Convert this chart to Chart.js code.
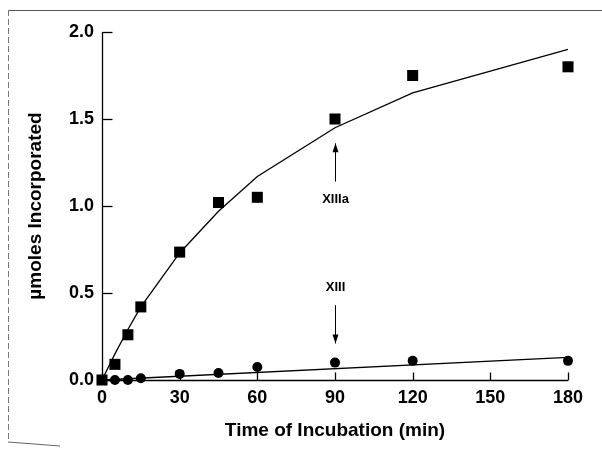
<!DOCTYPE html>
<html>
<head>
<meta charset="utf-8">
<script src="https://cdn.jsdelivr.net/npm/chart.js@4/dist/chart.umd.min.js"></script>
<style>
html,body{margin:0;padding:0;background:#fff;}
#wrap{position:relative;width:602px;height:449px;}
canvas{display:block;}
</style>
</head>
<body>
<div id="wrap"><canvas id="c" width="602" height="449"></canvas></div>
<script>
// Data
const timePoints = [0, 5, 10, 15, 30, 45, 60, 90, 120, 180];
const xiiiaValues = [0.00, 0.09, 0.26, 0.42, 0.735, 1.02, 1.05, 1.50, 1.75, 1.80];
const xiiiValues  = [0.00, 0.00, 0.00, 0.01, 0.035, 0.04, 0.075, 0.10, 0.11, 0.11];
const xiiiaFit    = [0.00, 0.15, 0.29, 0.42, 0.73, 0.97, 1.17, 1.45, 1.65, 1.90];
const xiiiFitX    = [0, 180];
const xiiiFit     = [0.00, 0.13];
const xTicks = [0, 30, 60, 90, 120, 150, 180];
const yTicks = [0.0, 0.5, 1.0, 1.5, 2.0];

const toPts = (xs, ys) => xs.map((x, i) => ({x: x, y: ys[i]}));

const FONT = '"Liberation Sans", Arial, Helvetica, sans-serif';

const annotations = [
  {label: 'XIIIa', x: 90, textY: 1.04, from: 1.14, to: 1.36},
  {label: 'XIII', x: 90, textY: 0.53, from: 0.43, to: 0.21}
];

const decorPlugin = {
  id: 'decor',
  beforeDraw(chart) {
    const ctx = chart.ctx;
    ctx.save();
    ctx.fillStyle = '#fff';
    ctx.fillRect(0, 0, chart.width, chart.height);
    // scanned page frame
    ctx.strokeStyle = '#555';
    ctx.lineWidth = 1.2;
    ctx.beginPath();
    ctx.moveTo(8, 10.5); ctx.lineTo(602, 10.5);
    ctx.stroke();
    ctx.strokeStyle = '#777';
    ctx.lineWidth = 1;
    ctx.setLineDash([6, 3]);
    ctx.beginPath();
    ctx.moveTo(8.5, 10); ctx.lineTo(8.5, 440);
    ctx.stroke();
    ctx.setLineDash([]);
    ctx.strokeStyle = '#666';
    ctx.beginPath();
    ctx.moveTo(8, 442); ctx.lineTo(60, 446);
    ctx.stroke();
    ctx.restore();
  },
  afterDraw(chart) {
    const ctx = chart.ctx;
    const xs = chart.scales.x, ys = chart.scales.y;
    ctx.save();
    ctx.strokeStyle = '#000';
    ctx.lineWidth = 1.3;
    // axis lines
    const x0 = Math.round(xs.left) + 0.5, y0 = Math.round(ys.bottom) + 0.5;
    ctx.beginPath();
    ctx.moveTo(x0, Math.round(ys.top));
    ctx.lineTo(x0, y0);
    ctx.lineTo(Math.round(xs.right), y0);
    ctx.stroke();
    // inside ticks
    yTicks.forEach(v => {
      const py = Math.round(ys.getPixelForValue(v)) + 0.5;
      ctx.beginPath(); ctx.moveTo(x0, py); ctx.lineTo(x0 + 10, py); ctx.stroke();
    });
    xTicks.forEach(v => {
      const px = Math.round(xs.getPixelForValue(v)) + 0.5;
      ctx.beginPath(); ctx.moveTo(px, y0); ctx.lineTo(px, y0 - 8); ctx.stroke();
    });
    // annotations
    ctx.fillStyle = '#000';
    ctx.font = 'bold 13px ' + FONT;
    ctx.textAlign = 'center';
    ctx.textBaseline = 'middle';
    annotations.forEach(a => {
      const px = Math.round(xs.getPixelForValue(a.x)) + 0.5;
      const pf = ys.getPixelForValue(a.from);
      const pt = ys.getPixelForValue(a.to);
      ctx.fillText(a.label, px, ys.getPixelForValue(a.textY));
      ctx.lineWidth = 1;
      ctx.beginPath(); ctx.moveTo(px, pf); ctx.lineTo(px, pt); ctx.stroke();
      const dir = pt < pf ? -1 : 1;
      ctx.beginPath();
      ctx.moveTo(px, pt);
      ctx.lineTo(px - 3, pt - dir * 9);
      ctx.lineTo(px + 3, pt - dir * 9);
      ctx.closePath();
      ctx.fill();
    });
    ctx.restore();
  }
};

new Chart(document.getElementById('c'), {
  type: 'scatter',
  data: {
    datasets: [
      {label: 'XIIIa fit', data: toPts(timePoints, xiiiaFit), showLine: true, borderColor: '#000', borderWidth: 1.3, pointRadius: 0, fill: false, tension: 0},
      {label: 'XIII fit', data: toPts(xiiiFitX, xiiiFit), showLine: true, borderColor: '#000', borderWidth: 1.3, pointRadius: 0, fill: false},
      {label: 'XIIIa', data: toPts(timePoints, xiiiaValues), showLine: false, pointStyle: 'rect', pointRadius: 7.8, backgroundColor: '#000', borderColor: '#000', borderWidth: 0},
      {label: 'XIII', data: toPts(timePoints, xiiiValues), showLine: false, pointStyle: 'circle', pointRadius: 5, backgroundColor: '#000', borderColor: '#000', borderWidth: 0}
    ]
  },
  options: {
    responsive: false,
    animation: false,
    devicePixelRatio: 1,
    clip: false,
    layout: {padding: {left: 0, top: 32, right: 34, bottom: 0}},
    plugins: {legend: {display: false}, tooltip: {enabled: false}},
    scales: {
      x: {
        type: 'linear', min: 0, max: 180,
        afterBuildTicks: s => { s.ticks = xTicks.map(v => ({value: v})); },
        afterFit: s => { s.height = 69; },
        grid: {display: false, drawTicks: false},
        border: {display: false},
        ticks: {color: '#000', padding: 7, font: {family: FONT, size: 18, weight: 'bold'}, maxRotation: 0},
        title: {display: true, text: 'Time of Incubation (min)', color: '#000', font: {family: FONT, size: 19, weight: 'bold'}, padding: {top: 0, bottom: 7}}
      },
      y: {
        type: 'linear', min: 0, max: 2,
        afterBuildTicks: s => { s.ticks = yTicks.map(v => ({value: v})); },
        afterFit: s => { s.width = 102; },
        grid: {display: false, drawTicks: false},
        border: {display: false},
        ticks: {color: '#000', padding: 8, font: {family: FONT, size: 18, weight: 'bold'}, callback: v => Number(v).toFixed(1)},
        title: {display: true, text: 'µmoles Incorporated', color: '#000', font: {family: FONT, size: 19, weight: 'bold'}, padding: {top: 24, bottom: 0}}
      }
    }
  },
  plugins: [decorPlugin]
});
</script>
</body>
</html>
